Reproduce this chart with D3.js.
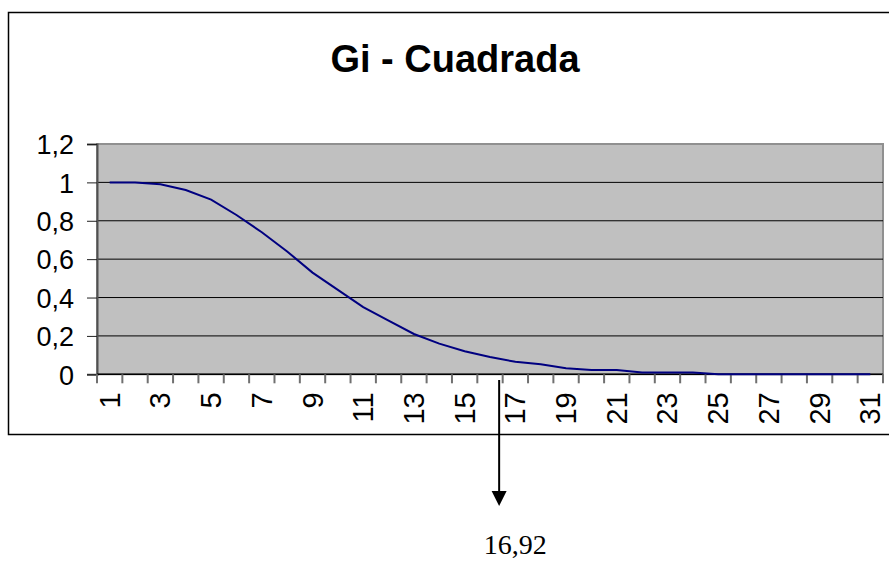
<!DOCTYPE html>
<html><head><meta charset="utf-8">
<script src="https://cdn.jsdelivr.net/npm/d3@7"></script>
<style>html,body{margin:0;padding:0;background:#fff;overflow:hidden}</style>
</head><body>
<svg id="c" width="889" height="563"></svg>
<script>
const categories = d3.range(1, 32).map(String);
const values = [1, 1, 0.99, 0.96, 0.91, 0.83, 0.74, 0.64, 0.53, 0.44, 0.35, 0.28, 0.21, 0.16, 0.12, 0.09,
  0.065, 0.052, 0.031, 0.022, 0.022, 0.01, 0.01, 0.01, 0, 0, 0, 0, 0, 0, 0];
const yTicks = [0, 0.2, 0.4, 0.6, 0.8, 1, 1.2];
const yTickLabels = ["0", "0,2", "0,4", "0,6", "0,8", "1", "1,2"];
const xTickLabels = categories.filter((d, i) => i % 2 === 0);
const title = "Gi - Cuadrada";
const criticalValue = 16.92;
const criticalLabel = "16,92";

const svg = d3.select("#c");
const L = 97, R = 883, T = 144, B = 374.3;

// outer chart border
svg.append("rect").attr("x", 8.5).attr("y", 12.5).attr("width", 900).attr("height", 422)
  .attr("fill", "#fff").attr("stroke", "#000").attr("stroke-width", 1.5);

svg.append("text").attr("x", 455).attr("y", 72).attr("text-anchor", "middle")
  .attr("font-family", "Liberation Sans, Arial, sans-serif").attr("font-weight", "bold")
  .attr("font-size", 38).text(title);

const x = d3.scaleBand().domain(categories).range([L, R]).padding(0);
const xLin = d3.scaleLinear().domain([1, categories.length + 1]).range([L, R]);
const y = d3.scaleLinear().domain([0, 1.2]).range([B, T]);

// plot area
svg.append("rect").attr("x", L).attr("y", T).attr("width", R - L).attr("height", B - T)
  .attr("fill", "#c0c0c0").attr("stroke", "#909090").attr("stroke-width", 2);

// gridlines
svg.append("g").selectAll("line").data(yTicks.filter(v => v > 0 && v < 1.2)).join("line")
  .attr("x1", L).attr("x2", R).attr("y1", d => y(d)).attr("y2", d => y(d))
  .attr("stroke", "#000").attr("stroke-width", 1);

// y axis
const yAxis = d3.axisLeft(y).tickValues(yTicks).tickSize(10).tickPadding(13)
  .tickFormat((d, i) => yTickLabels[i]);
const gy = svg.append("g").attr("transform", `translate(${L},0)`).call(yAxis);
gy.select(".domain").attr("stroke", "#505050").attr("stroke-width", 2);
gy.selectAll(".tick line").attr("stroke", "#202020").attr("stroke-width", 1);
gy.selectAll("text").attr("font-family", "Liberation Sans, Arial, sans-serif")
  .attr("font-size", 27).attr("fill", "#000").attr("dy", "0.36em");

// x axis
const edges = d3.range(1, categories.length + 2);
const gx = svg.append("g").attr("transform", `translate(0,${B})`);
gx.append("line").attr("x1", L).attr("x2", R).attr("stroke", "#000").attr("stroke-width", 1.5);
gx.selectAll("line.tk").data(edges).join("line").attr("class", "tk")
  .attr("x1", d => xLin(d)).attr("x2", d => xLin(d)).attr("y1", 0).attr("y2", 9)
  .attr("stroke", "#707070").attr("stroke-width", 2);
gx.selectAll("text").data(xTickLabels).join("text")
  .attr("transform", d => `translate(${x(d) + x.bandwidth() / 2 + 10},${18}) rotate(-90)`)
  .attr("text-anchor", "end")
  .attr("font-family", "Liberation Sans, Arial, sans-serif").attr("font-size", 29)
  .text(d => d);

// line
const line = d3.line().x((d, i) => x(categories[i]) + x.bandwidth() / 2).y(d => y(d));
svg.append("path").datum(values).attr("d", line).attr("fill", "none")
  .attr("stroke", "#000080").attr("stroke-width", 2);

// arrow
const ax = xLin(criticalValue) - 1.5;
svg.append("line").attr("x1", ax).attr("x2", ax).attr("y1", 380).attr("y2", 492)
  .attr("stroke", "#000").attr("stroke-width", 2);
svg.append("path").attr("d", `M${ax - 7.5},491 L${ax + 7.5},491 L${ax},506 Z`).attr("fill", "#000");
svg.append("text").attr("x", ax + 16).attr("y", 554).attr("text-anchor", "middle")
  .attr("font-family", "Liberation Serif, Times New Roman, serif").attr("font-size", 28)
  .text(criticalLabel);
</script>
</body></html>
